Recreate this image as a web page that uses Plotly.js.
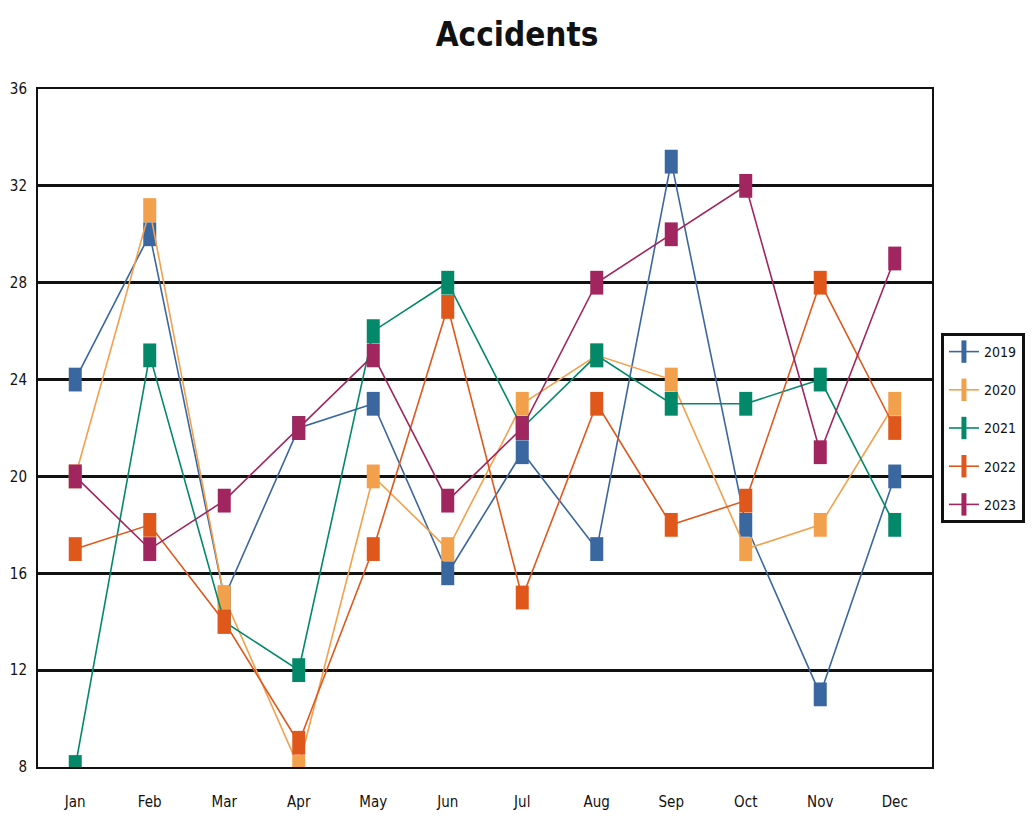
<!DOCTYPE html>
<html>
<head>
<meta charset="utf-8">
<script src="https://cdn.plot.ly/plotly-3.0.1.min.js"></script>
<style>html,body{margin:0;padding:0;background:#fff;}#chart{width:1034px;height:819px;}</style>
</head>
<body>
<div id="chart"></div>
<script>
const months = ["Jan","Feb","Mar","Apr","May","Jun","Jul","Aug","Sep","Oct","Nov","Dec"];
const seriesNames = ["2019","2020","2021","2022","2023"];
const v2019 = [24,30,15,22,23,16,21,17,33,18,11,20];
const v2020 = [20,31,15,8,20,17,23,25,24,17,18,23];
const v2021 = [8,25,14,12,26,28,22,25,23,23,24,18];
const v2022 = [17,18,14,9,17,27,15,23,18,19,28,22];
const v2023 = [20,17,19,22,25,19,22,28,30,32,21,29];
const yTicks = [8,12,16,20,24,28,32,36];

const values = [v2019,v2020,v2021,v2022,v2023];
const colors = ["#3a67a0","#f2a04c","#03896a","#e0571c","#a1255e"];
const FONT = "'Liberation Sans Narrow', 'DejaVu Sans Condensed', 'Arial Narrow', sans-serif";

const traces = seriesNames.map((name,i)=>({
  type:"scatter", mode:"lines+markers", name:name, legendgroup:name,
  x:months, y:values[i],
  line:{color:colors[i], width:1.6},
  marker:{symbol:"line-ns", size:17, color:colors[i], line:{color:colors[i], width:13}}
}));

const layout = {
  width:1034, height:819,
  paper_bgcolor:"#fff", plot_bgcolor:"#fff",
  margin:{l:38, r:102, t:89, b:52, autoexpand:false},
  title:{text:"<b>Accidents</b>", x:0.5, xanchor:"center", y:0.958, yanchor:"middle",
         font:{family:FONT, size:33, color:"#111"}},
  font:{family:FONT, size:15, color:"#111"},
  showlegend:true,
  legend:{x:1.01, xanchor:"left", y:0.5, yanchor:"middle",
          bordercolor:"#111", borderwidth:3, bgcolor:"#fff",
          tracegroupgap:17, font:{family:FONT, size:14, color:"#111"}},
  xaxis:{type:"category", range:[-0.5,11.5], showgrid:false, ticks:"",
         showline:true, linecolor:"#111", linewidth:2, mirror:true,
         ticklabelstandoff:20,
         tickfont:{family:FONT, size:15, color:"#111"}, fixedrange:true},
  yaxis:{range:[8,36], tickvals:yTicks, ticktext:yTicks.map(String), showgrid:true,
         gridcolor:"#111", gridwidth:3, ticks:"", zeroline:false,
         showline:true, linecolor:"#111", linewidth:2, mirror:true,
         ticklabelstandoff:6,
         tickfont:{family:FONT, size:15, color:"#111"}, fixedrange:true}
};

Plotly.newPlot("chart", traces, layout, {displayModeBar:false, staticPlot:true});
</script>
</body>
</html>
